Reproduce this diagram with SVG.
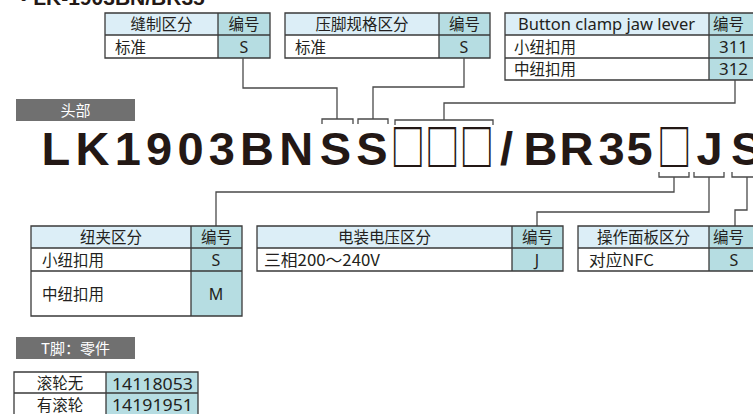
<svg xmlns="http://www.w3.org/2000/svg" width="753" height="414" viewBox="0 0 753 414">
<defs>
<style>
.hd{fill:#dcEEF7}
.no{fill:#b6dde2}
.wt{fill:#ffffff}
.bd{fill:none;stroke:#3a3a3a;stroke-width:1.3}
.ln{fill:none;stroke:#4a4a4a;stroke-width:1.3}
.cj{font-family:"Noto Sans CJK SC","Noto Sans",sans-serif;font-size:15.5px;fill:#231f20}
.c{text-anchor:middle}
.lat{font-family:"Noto Sans","Noto Sans CJK SC",sans-serif;font-size:16px;fill:#231f20}
.gb{fill:#707070}
.gt{font-family:"Noto Sans CJK SC",sans-serif;font-size:15px;fill:#ffffff;text-anchor:middle}
.big{font-family:"Liberation Sans",Arial,sans-serif;font-weight:bold;font-size:47px;fill:#231815}
.box{font-family:"Noto Sans CJK SC",sans-serif;font-weight:bold;font-size:48px}
</style>
</defs>
<rect width="753" height="414" fill="#ffffff"/>
<text x="20" y="5" font-family="Liberation Sans, Arial, sans-serif" font-weight="bold" font-size="21" fill="#231815">• LK-1903BN/BR35</text>

<g id="table-sewing">
<rect class="hd" x="105" y="13" width="113" height="22"/>
<rect class="wt" x="105" y="35" width="113" height="23"/>
<rect class="no" x="218" y="13" width="52" height="45"/>
<path class="bd" d="M105 13H270V58H105Z M105 35H270 M218 13V58"/>
<text class="cj c" x="161.5" y="30">缝制区分</text>
<text class="cj c" x="244" y="30">编号</text>
<text class="cj" x="115" y="52.5">标准</text>
<text class="lat c" x="244" y="52.5">S</text>
</g>

<g id="table-presser">
<rect class="hd" x="285" y="13" width="154" height="22"/>
<rect class="wt" x="285" y="35" width="154" height="23"/>
<rect class="no" x="439" y="13" width="51" height="45"/>
<path class="bd" d="M285 13H490V58H285Z M285 35H490 M439 13V58"/>
<text class="cj c" x="362" y="30">压脚规格区分</text>
<text class="cj c" x="464.5" y="30">编号</text>
<text class="cj" x="295" y="52.5">标准</text>
<text class="lat c" x="464" y="52.5">S</text>
</g>

<g id="table-lever">
<rect class="hd" x="505" y="13" width="204" height="22"/>
<rect class="wt" x="505" y="35" width="204" height="45"/>
<rect class="no" x="709" y="13" width="50" height="67"/>
<path class="bd" d="M505 13H759V80H505Z M505 35H759 M505 58H759 M709 13V80"/>
<text class="lat" x="518" y="30" textLength="177" lengthAdjust="spacingAndGlyphs">Button clamp jaw lever</text>
<text class="cj" x="713" y="30">编号</text>
<text class="cj" x="514" y="52.5">小纽扣用</text>
<text class="cj" x="514" y="75">中纽扣用</text>
<text class="lat" x="719" y="52.5" font-size="17" textLength="29" lengthAdjust="spacingAndGlyphs">311</text>
<text class="lat" x="719" y="75" font-size="17" textLength="29" lengthAdjust="spacingAndGlyphs">312</text>
</g>

<g id="label-head">
<rect class="gb" x="16" y="99" width="119" height="22"/>
<text class="gt" x="75.5" y="115.5">头部</text>
</g>

<g id="model-code">
<text class="big" y="165"><tspan x="41.5 75.5 114.8 146.1 177.4 208.7 240 279.3 319.8 356.2">LK1903BNSS</tspan><tspan class="box" x="390.5" y="165" textLength="103.5" lengthAdjust="spacingAndGlyphs">□□□</tspan><tspan x="500 523.6 559.5 598.5 626.5" y="165">/BR35</tspan><tspan class="box" x="657" y="165" textLength="34.5" lengthAdjust="spacingAndGlyphs">□</tspan><tspan x="696.5 731" y="165">JS</tspan></text>
</g>

<g id="connectors">
<path class="ln" d="M243 58V88H337V119 M322 124V119H353V124"/>
<path class="ln" d="M464 58V87H373V119 M358 124V119H388V124"/>
<path class="ln" d="M735 80V103H444V120 M395 125V120H493V125"/>
<path class="ln" d="M659 172V177H689V172 M674 177V192H216V226"/>
<path class="ln" d="M694 172V177H724V172 M709 177V212H537V226"/>
<path class="ln" d="M732 172V177H762V172 M747 177V210H735V226"/>
</g>

<g id="table-clamp">
<rect class="hd" x="31" y="226" width="160" height="22"/>
<rect class="wt" x="31" y="248" width="160" height="68"/>
<rect class="no" x="191" y="226" width="51" height="90"/>
<path class="bd" d="M31 226H242V316H31Z M31 248H242 M31 271H242 M191 226V316"/>
<text class="cj c" x="111" y="243">纽夹区分</text>
<text class="cj c" x="216.5" y="243">编号</text>
<text class="cj" x="42" y="265.5">小纽扣用</text>
<text class="cj" x="42" y="300">中纽扣用</text>
<text class="lat c" x="216" y="265.5">S</text>
<text class="lat c" x="216" y="299.5" font-size="15">M</text>
</g>

<g id="table-voltage">
<rect class="hd" x="257" y="226" width="255" height="22"/>
<rect class="wt" x="257" y="248" width="255" height="23"/>
<rect class="no" x="512" y="226" width="51" height="45"/>
<path class="bd" d="M257 226H563V271H257Z M257 248H563 M512 226V271"/>
<text class="cj c" x="384.5" y="243">电装电压区分</text>
<text class="cj c" x="537.5" y="243">编号</text>
<text class="cj" x="264" y="265.5" textLength="116" lengthAdjust="spacingAndGlyphs">三相200～240V</text>
<text class="lat c" x="537" y="265.5">J</text>
</g>

<g id="table-panel">
<rect class="hd" x="578" y="226" width="131" height="22"/>
<rect class="wt" x="578" y="248" width="131" height="23"/>
<rect class="no" x="709" y="226" width="50" height="45"/>
<path class="bd" d="M578 226H759V271H578Z M578 248H759 M709 226V271"/>
<text class="cj c" x="643.5" y="243">操作面板区分</text>
<text class="cj" x="713" y="243">编号</text>
<text class="cj" x="589" y="265.5" textLength="65" lengthAdjust="spacingAndGlyphs">对应NFC</text>
<text class="lat c" x="734" y="265.5">S</text>
</g>

<g id="label-foot">
<rect class="gb" x="16" y="337" width="119" height="22"/>
<text class="gt" x="75.5" y="353.5">T脚：零件</text>
</g>

<g id="table-parts">
<rect class="wt" x="14" y="372" width="92" height="44"/>
<rect class="no" x="106" y="372" width="92" height="44"/>
<path class="bd" d="M14 372H198V416H14Z M14 393H198 M106 372V416"/>
<text class="cj c" x="60" y="389" font-size="17">滚轮无</text>
<text class="cj c" x="60" y="410.5" font-size="17">有滚轮</text>
<text class="lat" x="112" y="389.5" font-size="19" textLength="81" lengthAdjust="spacingAndGlyphs">14118053</text>
<text class="lat" x="112" y="411" font-size="19" textLength="81" lengthAdjust="spacingAndGlyphs">14191951</text>
</g>
</svg>
